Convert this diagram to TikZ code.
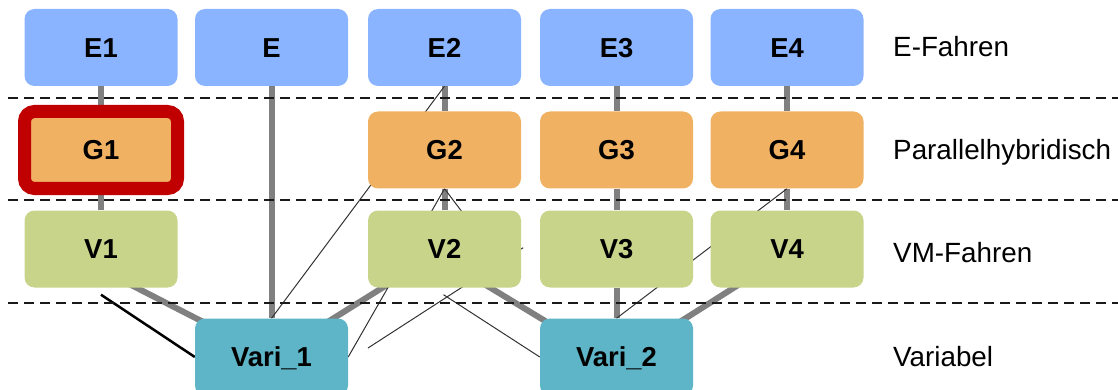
\documentclass[tikz,border=0pt]{standalone}
\usepackage{fontspec}
\setmainfont{Liberation Sans}
\usetikzlibrary{calc,backgrounds}

\definecolor{eblue}{RGB}{138,180,255}
\definecolor{gorange}{RGB}{240,178,98}
\definecolor{vgreen}{RGB}{201,212,139}
\definecolor{vteal}{RGB}{94,181,199}
\definecolor{hred}{RGB}{192,0,0}
\definecolor{linkgray}{RGB}{128,128,128}

\begin{document}
\begin{tikzpicture}[x=1pt,y=-1pt,
  box/.style={rounded corners=10pt, minimum width=153pt, minimum height=77pt,
    inner sep=0pt, text height=19.6pt, text depth=0pt,
    font=\bfseries\fontsize{27.4}{32}\selectfont},
  ebox/.style={box, fill=eblue},
  gbox/.style={box, fill=gorange},
  vbox/.style={box, fill=vgreen},
  varbox/.style={box, fill=vteal},
  marked/.style={draw=hred, line width=13pt},
  trunk/.style={draw=linkgray, line width=6pt},
  fine/.style={draw=black!80, line width=1pt},
  bold link/.style={draw=black, line width=2.5pt},
  divider/.style={draw=black!90, line width=2pt, dash pattern=on 10pt off 6pt},
  rowlabel/.style={anchor=base west, inner sep=0pt,
    font=\fontsize{27.8}{32}\selectfont}]

\useasboundingbox (0,0) rectangle (1118,390);

% operating modes, one row each
\node[ebox] (E1) at (101,47.5) {E1};
\node[ebox] (E)  at (271.5,47.5) {E};
\node[ebox] (E2) at (444.5,47.5) {E2};
\node[ebox] (E3) at (616.5,47.5) {E3};
\node[ebox] (E4) at (787,47.5) {E4};

\node[gbox, marked] (G1) at (101,150) {G1};
\node[gbox] (G2) at (444.5,150) {G2};
\node[gbox] (G3) at (616.5,150) {G3};
\node[gbox] (G4) at (787,150) {G4};

\node[vbox] (V1) at (101,249) {V1};
\node[vbox] (V2) at (444.5,249) {V2};
\node[vbox] (V3) at (616.5,249) {V3};
\node[vbox] (V4) at (787,249) {V4};

\node[varbox] (Vari1) at (271.5,357) {Vari\_1};
\node[varbox] (Vari2) at (616.5,357) {Vari\_2};

\coordinate (free) at (368,348);

% row titles
\node[rowlabel] (tE) at (893,57) {E-Fahren};
\node[rowlabel] (tG) at (893,160) {Parallelhybridisch};
\node[rowlabel] (tV) at (893,262) {VM-Fahren};
\node[rowlabel] (tX) at (893,366) {Variabel};

% row separators
\draw[divider] (8,98) -- (1118,98);
\draw[divider] (8,200) -- (1118,200);
\draw[divider] (8,303) -- (1118,303);

\begin{pgfonlayer}{background}
  % main transitions
  \draw[trunk] (E1) -- (G1) -- (V1);
  \draw[trunk] (E) -- (Vari1);
  \draw[trunk] (E2) -- (G2) -- (V2);
  \draw[trunk] (E3) -- (G3) -- (V3) -- (Vari2);
  \draw[trunk] (E4) -- (G4) -- (V4);
  \draw[trunk] ($(V1.center)+(-40,0)$) -- (Vari1.center);
  \draw[trunk] (V2.center) -- (Vari1.center);
  \draw[trunk] ($(V2.center)+(-18,0)$) -- ($(Vari2.center)+(-12,0)$);
  \draw[trunk] ($(V4.center)+(8,0)$) -- ($(Vari2.center)+(8,0)$);

  % secondary transitions
  \draw[fine] (Vari1.north) -- (E2.south);
  \draw[fine] (Vari1.east) -- (G2.south);
  \draw[fine] (free) -- ($(V2.east)+(2,-1.3)$);
  \draw[fine] ($(V2.south)+(-1,7)$) -- (Vari2.west);
  \draw[fine] (G2.south) -- ($(V2.south east)+(-8,-8)$);
  \draw[fine] (Vari2.north) -- (G4.south);
  \draw[bold link] ($(V1.south)+(0,7)$) -- (Vari1.west);
\end{pgfonlayer}
\end{tikzpicture}
\end{document}
